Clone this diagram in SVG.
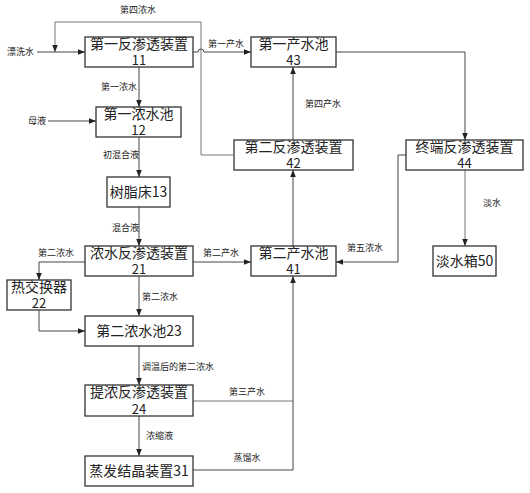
<svg xmlns="http://www.w3.org/2000/svg" width="530" height="493" viewBox="0 0 530 493">
<style>
.box{fill:#fff;stroke:#333;stroke-width:1.3}
.t{font-family:"Noto Sans CJK SC","Noto Sans",sans-serif;font-size:14px;fill:#222;text-anchor:middle}
.n{font-size:13px}
.l{font-family:"Noto Sans CJK SC","Noto Sans",sans-serif;font-size:9px;fill:#222}
.c{fill:none;stroke:#444;stroke-width:1}
.g{fill:none;stroke:#777;stroke-width:1}
</style>
<defs>
<marker id="ah" viewBox="0 0 10 10" refX="10" refY="5" markerWidth="7" markerHeight="7" orient="auto" markerUnits="userSpaceOnUse">
<path d="M0,1 L10,5 L0,9 Z" fill="#222"/>
</marker>
</defs>
<rect width="530" height="493" fill="#fff"/>
<g id="connectors">
<path class="c" d="M37,52 H85" marker-end="url(#ah)"/>
<path class="g" d="M233,155 H201 V22 H55 V52" marker-end="url(#ah)"/>
<path class="c" d="M193,52 H198 a3,3 0 0 1 6,0 H251" marker-end="url(#ah)"/>
<path class="c" d="M139,67 V107" marker-end="url(#ah)"/>
<path class="c" d="M48,121 H96" marker-end="url(#ah)"/>
<path class="c" d="M139,137 V177" marker-end="url(#ah)"/>
<path class="c" d="M139,207 V246" marker-end="url(#ah)"/>
<path class="c" d="M193,262 H251" marker-end="url(#ah)"/>
<path class="c" d="M85,262 H39 V280" marker-end="url(#ah)"/>
<path class="c" d="M39,310 V331 H85" marker-end="url(#ah)"/>
<path class="c" d="M139,276 V316" marker-end="url(#ah)"/>
<path class="c" d="M139,346 V385" marker-end="url(#ah)"/>
<path class="c" d="M139,416 V456" marker-end="url(#ah)"/>
<path class="g" d="M193,401 H293"/>
<path class="c" d="M193,470 H293 V276" marker-end="url(#ah)"/>
<path class="c" d="M293,246 V170" marker-end="url(#ah)"/>
<path class="c" d="M293,140 V67" marker-end="url(#ah)"/>
<path class="c" d="M336,52 H465 V140" marker-end="url(#ah)"/>
<path class="g" d="M465,170 V246" marker-end="url(#ah)"/>
<path class="c" d="M406,155 H398 V262 H336" marker-end="url(#ah)"/>
<text class="l" x="7" y="55">漂洗水</text>
<text class="l" x="138" y="13" text-anchor="middle">第四浓水</text>
<text class="l" x="226" y="47" text-anchor="middle">第一产水</text>
<text class="l" x="137" y="90" text-anchor="end">第一浓水</text>
<text class="l" x="28" y="124">母液</text>
<text class="l" x="139" y="158" text-anchor="end">初混合液</text>
<text class="l" x="139" y="231" text-anchor="end">混合液</text>
<text class="l" x="221" y="256" text-anchor="middle">第二产水</text>
<text class="l" x="56" y="256" text-anchor="middle">第二浓水</text>
<text class="l" x="142" y="300">第二浓水</text>
<text class="l" x="142" y="370">调温后的第二浓水</text>
<text class="l" x="146" y="439">浓缩液</text>
<text class="l" x="247" y="395" text-anchor="middle">第三产水</text>
<text class="l" x="247" y="461" text-anchor="middle">蒸馏水</text>
<text class="l" x="305" y="107">第四产水</text>
<text class="l" x="483" y="206">淡水</text>
<text class="l" x="365" y="251" text-anchor="middle">第五浓水</text>
</g>
<g id="n11"><rect class="box" x="85" y="37" width="108" height="30"/><text class="t" x="139" y="49">第一反渗透装置<tspan class="n" x="139" dy="16">11</tspan></text></g>
<g id="n12"><rect class="box" x="96" y="107" width="85" height="30"/><text class="t" x="138.5" y="119">第一浓水池<tspan class="n" x="138.5" dy="16">12</tspan></text></g>
<g id="n13"><rect class="box" x="107" y="177" width="63" height="30"/><text class="t" x="138.5" y="197">树脂床13</text></g>
<g id="n21"><rect class="box" x="85" y="246" width="108" height="30"/><text class="t" x="139" y="258">浓水反渗透装置<tspan class="n" x="139" dy="16">21</tspan></text></g>
<g id="n22"><rect class="box" x="7" y="280" width="64" height="30"/><text class="t" x="39" y="292">热交换器<tspan class="n" x="39" dy="16">22</tspan></text></g>
<g id="n23"><rect class="box" x="85" y="316" width="108" height="30"/><text class="t" x="139" y="336">第二浓水池23</text></g>
<g id="n24"><rect class="box" x="85" y="385" width="108" height="31"/><text class="t" x="139" y="397">提浓反渗透装置<tspan class="n" x="139" dy="17">24</tspan></text></g>
<g id="n31"><rect class="box" x="85" y="456" width="108" height="30"/><text class="t" x="139" y="476">蒸发结晶装置31</text></g>
<g id="n41"><rect class="box" x="251" y="246" width="85" height="30"/><text class="t" x="293.5" y="258">第二产水池<tspan class="n" x="293.5" dy="16">41</tspan></text></g>
<g id="n42"><rect class="box" x="234" y="140" width="119" height="30"/><text class="t" x="293.5" y="152">第二反渗透装置<tspan class="n" x="293.5" dy="16">42</tspan></text></g>
<g id="n43"><rect class="box" x="251" y="37" width="85" height="30"/><text class="t" x="293.5" y="49">第一产水池<tspan class="n" x="293.5" dy="16">43</tspan></text></g>
<g id="n44"><rect class="box" x="406" y="140" width="117" height="30"/><text class="t" x="464.5" y="152">终端反渗透装置<tspan class="n" x="464.5" dy="16">44</tspan></text></g>
<g id="n50"><rect class="box" x="433" y="246" width="63" height="30"/><text class="t" x="464.5" y="266">淡水箱50</text></g>
</svg>
